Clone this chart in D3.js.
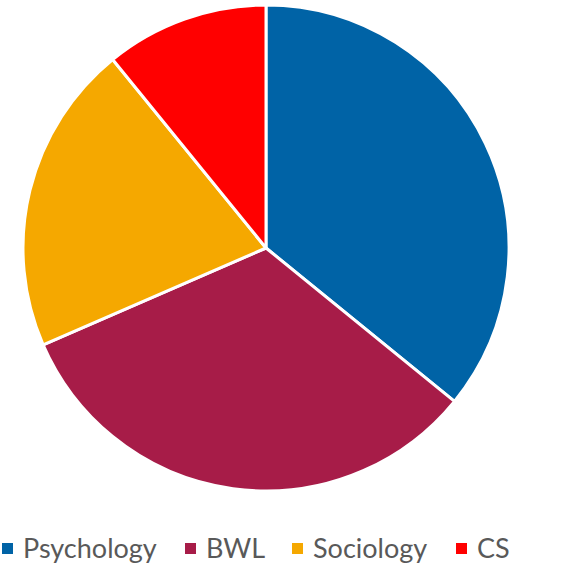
<!DOCTYPE html>
<html>
<head>
<meta charset="utf-8">
<script src="https://cdn.jsdelivr.net/npm/d3@7"></script>
<style>
  body { margin: 0; background: #fff; }
</style>
</head>
<body>
<script>
var subjects = ["Psychology", "BWL", "Sociology", "CS"];
var counts = [33, 30, 19, 10];
var colors = ["#0063A6", "#A71C48", "#F5A800", "#FF0000"];

var width = 564, height = 566;
var cx = 266, cy = 248, radius = 243;

var svg = d3.select("body").append("svg").attr("width", width).attr("height", height);

var pie = d3.pie().sort(null).value(function (d) { return d; });
var arc = d3.arc().innerRadius(0).outerRadius(radius);

var g = svg.append("g").attr("transform", "translate(" + cx + "," + cy + ")");
g.selectAll("path")
    .data(pie(counts))
    .enter().append("path")
    .attr("d", arc)
    .attr("fill", function (d, i) { return colors[i]; })
    .attr("stroke", "#fff")
    .attr("stroke-width", 3)
    .attr("stroke-linejoin", "round");

// legend
var legendXs = [2, 185, 292, 456];
var legend = svg.append("g");
subjects.forEach(function (s, i) {
    var x = legendXs[i];
    legend.append("rect")
        .attr("x", x).attr("y", 543)
        .attr("width", 11).attr("height", 11)
        .attr("fill", colors[i]);
    legend.append("text")
        .attr("x", x + 21).attr("y", 558)
        .attr("font-family", "Lato, sans-serif")
        .attr("font-size", 27)
        .attr("fill", "#595959")
        .text(s);
});
</script>
</body>
</html>
